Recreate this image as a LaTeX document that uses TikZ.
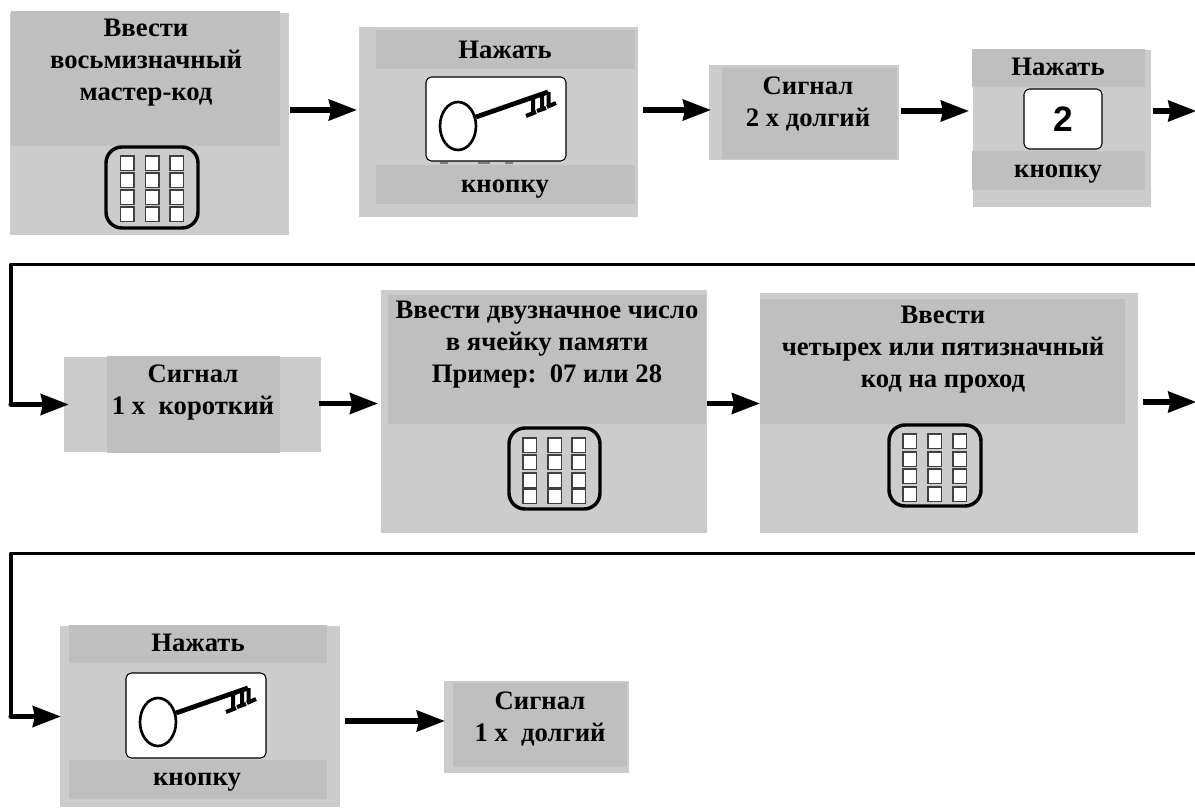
\documentclass[tikz,border=0pt]{standalone}
\usepackage{fontspec}
\setmainfont{Liberation Serif}
\newfontfamily\digitfont{Liberation Sans}
\usetikzlibrary{arrows.meta}
\definecolor{lightpanel}{HTML}{CCCCCC}
\definecolor{darkpanel}{HTML}{BFBFBF}
\tikzset{
  panel/.style={inner sep=0pt,outer sep=0pt,draw=none},
  lite/.style={panel,fill=lightpanel},
  dark/.style={panel,fill=darkpanel},
  keyframe/.style={panel,fill=white,draw=black,line width=0.8pt,rounded corners=4pt},
  padframe/.style={panel,draw=black,line width=2.6pt,rounded corners=12pt},
  label/.style={inner sep=0pt,outer sep=0pt,align=center,
    font=\fontsize{20}{24}\selectfont\bfseries},
  flow/.style={line width=3.9pt,-{Stealth[length=21pt,width=15.5pt,inset=1.5pt]}},
  route/.style={line width=2.9pt,line join=round},
  pics/keyglyph/.style={code={
    \draw[line width=2pt] (32,49) ellipse [x radius=18,y radius=24];
    \draw[line width=3.6pt] (50,40) -- (122,15);
    \draw[line width=3pt] (107,22) -- (107,37) (100,39) -- (110,35);
    \draw[line width=3pt] (116,18) -- (116,32) (111,34) -- (120,31);
    \draw[line width=3pt] (122.5,15) -- (122.5,28) (121,30) -- (130,26);
  }}
}
% name, style, x0, y0, x1, y1
\newcommand{\dgbox}[6]{%
  \node[#2,minimum width={(#5-#3)*0.75pt},minimum height={(#6-#4)*0.75pt}]
    (#1) at ({(#3+#5)/2},{(#4+#6)/2}) {};}
% name, x0, y0, x1, y1, column lefts, row tops
\newcommand{\dgpad}[7]{%
  \dgbox{#1}{padframe}{#2}{#3}{#4}{#5}
  \foreach \cx in {#6} \foreach \ry in {#7}
    \draw[fill=white,draw=black!75,line width=0.8pt] (\cx,\ry) rectangle ++(13.5,14.5);}
\begin{document}
\begin{tikzpicture}[x=0.75pt,y=-0.75pt]
\useasboundingbox (0,0) rectangle (1195,809);
% row 1
\dgbox{b1}{lite}{9.5}{13}{289}{235}
\dgbox{d1}{dark}{11}{11}{280}{146}
\dgpad{p1}{106}{147}{198}{228}{120.5,145.5,170}{156,173,190,207}
\node[label] (t1) at (146,62.5) {Ввести\\восьмизначный\\мастер-код};

\dgbox{b2}{lite}{359}{27}{638}{217}
\dgbox{d2a}{dark}{376}{30}{635}{69}
\dgbox{d2b}{dark}{376}{165}{635}{204}
\dgbox{k2}{keyframe}{426}{77}{566}{161}
\pic at (k2.north west) {keyglyph};
\draw[gray,line width=0.8pt] (440,163) -- (448,163) (478,163) -- (490,163) (505,163) -- (513,163);
\node[label] (t2a) at (505,50) {Нажать};
\node[label] (t2b) at (505,189) {кнопку};

\dgbox{b3}{lite}{709}{65}{899}{160}
\dgbox{d3}{dark}{722}{68}{897}{159}
\node[label] (t3) at (808,104) {Сигнал\\2 х долгий};

\dgbox{b4}{lite}{973}{50}{1151}{207}
\dgbox{d4a}{dark}{972}{49}{1145}{87}
\dgbox{d4b}{dark}{972}{151}{1145}{190}
\dgbox{k4}{keyframe}{1024}{89}{1102}{149}
\node[inner sep=0pt,font=\digitfont\bfseries\fontsize{26.5}{30}\selectfont] (t4k) at (k4.center) {2};
\node[label] (t4a) at (1058,67) {Нажать};
\node[label] (t4b) at (1058,174) {кнопку};

% row 2
\dgbox{b5}{lite}{64}{357}{321}{452}
\dgbox{d5}{dark}{107}{356}{280}{453}
\node[label] (t5) at (193,392.5) {Сигнал\\1 х\ \ короткий};

\dgbox{b6}{lite}{381}{290}{707}{533}
\dgbox{d6}{dark}{388}{295}{706}{424}
\dgpad{p6}{509}{428}{600}{509}{523,548,572}{438,455,473,489}
\node[label] (t6) at (547,344.5) {Ввести двузначное число\\в ячейку памяти\\Пример:\ \ 07 или 28};

\dgbox{b7}{lite}{760}{293}{1138}{533}
\dgbox{d7}{dark}{760}{299}{1125}{424}
\dgpad{p7}{889}{425}{981}{506}{903,928,953}{434,452,469,487}
\node[label] (t7) at (943,350) {Ввести\\четырех или пятизначный\\код на проход};

% row 3
\dgbox{b8}{lite}{60}{626}{340}{807}
\dgbox{d8a}{dark}{69}{625}{327}{663}
\dgbox{d8b}{dark}{69}{760}{327}{799}
\dgbox{k8}{keyframe}{126}{673}{266}{758}
\pic at (k8.north west) {keyglyph};
\node[label] (t8a) at (198,643) {Нажать};
\node[label] (t8b) at (197,782) {кнопку};

\dgbox{b9}{lite}{444}{681}{629}{773}
\dgbox{d9}{dark}{453}{683}{627}{767}
\node[label] (t9) at (540,719) {Сигнал\\1 х\ \ долгий};

% connector levels and free ends
\coordinate (y1) at (0,110);
\coordinate (y2) at (0,403.5);
\coordinate (y3) at (0,721);
\coordinate (e1) at (1195,111);
\coordinate (e2) at (1195,402);
\coordinate (s2) at (1195,264.5);
\coordinate (c2) at (11,264.5);
\coordinate (s3) at (1195,553.5);
\coordinate (c3) at (11,553.5);

\draw[flow,shorten <=1pt,shorten >=1.5pt] (b1.east|-y1) -- (b2.west|-y1);
\draw[flow,shorten <=3.7pt,shorten >=-1.5pt] (b2.east|-y1) -- (b3.west|-y1);
\draw[flow,shorten <=1.5pt,shorten >=3pt] (b3.east|-e1) -- (b4.west|-e1);
\draw[flow,shorten <=1.5pt,shorten >=-1pt] (b4.east|-e1) -- (e1);
\draw[route] (s2) -- (c2) -- (c2|-b5.west);
\draw[flow,line cap=round,shorten >=-3.7pt] (c2|-b5.west) -- (b5.west);
\draw[flow,shorten <=-1.5pt,shorten >=2.2pt] (b5.east|-y2) -- (b6.west|-y2);
\draw[flow] (b6.east|-y2) -- (b7.west|-y2);
\draw[flow,shorten <=3.7pt,shorten >=-1pt] (b7.east|-e2) -- (e2);
\draw[route] (s3) -- (c3) -- (c3|-b8.west);
\draw[flow,line cap=round,shorten >=-0.7pt] (c3|-b8.west) -- (b8.west);
\draw[flow,shorten <=3.7pt,shorten >=-0.7pt] (b8.east|-y3) -- (b9.west|-y3);
\end{tikzpicture}
\end{document}
